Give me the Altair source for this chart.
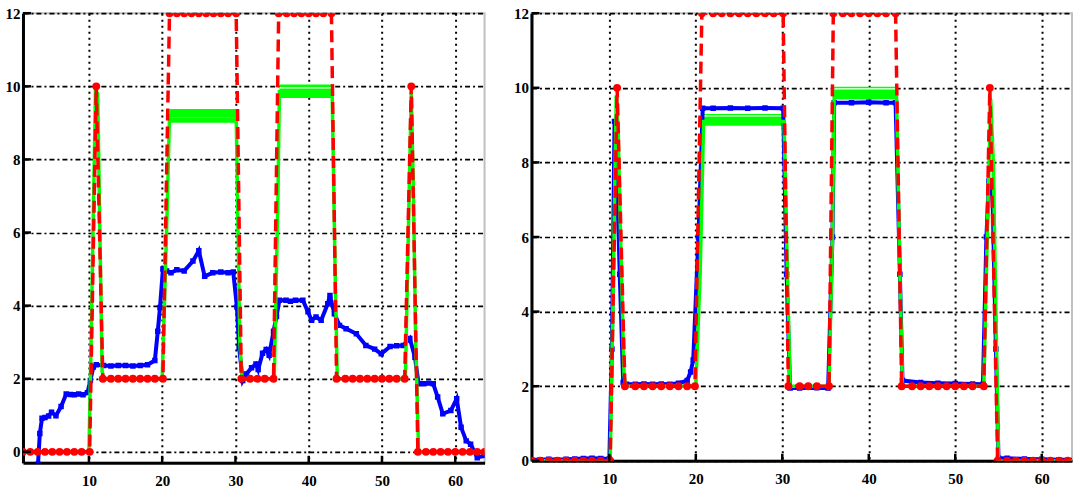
import altair as alt
import pandas as pd

X_TICKS = [10, 20, 30, 40, 50, 60]
Y_TICKS = [0, 2, 4, 6, 8, 10, 12]

# ---------------- left panel ----------------
red_left = [(1, 0), (2, 0), (3, 0), (4, 0), (5, 0), (6, 0), (7, 0), (8, 0), (9, 0), (10.1, 0),
            (11.0, 10), (11.9, 2), (13, 2), (14, 2), (15, 2), (16, 2), (17, 2), (18, 2), (19, 2), (20.1, 2),
            (21.0, 12), (22, 12), (23, 12), (24, 12), (25, 12), (26, 12), (27, 12), (28, 12), (29, 12), (30.1, 12),
            (30.8, 2), (32, 2), (33, 2), (34, 2), (35.2, 2),
            (35.9, 12), (37, 12), (38, 12), (39, 12), (40, 12), (41, 12), (42, 12), (43.1, 12),
            (43.8, 2), (45, 2), (46, 2), (47, 2), (48, 2), (49, 2), (50, 2), (51, 2), (52, 2), (53.1, 2),
            (54.0, 10), (54.9, 0), (56, 0), (57, 0), (58, 0), (59, 0), (60, 0), (61, 0), (62, 0), (63, 0), (64, 0)]

green_left = [(1, 0), (10.0, 0), (10.3, 3), (10.9, 9.9), (11.2, 9.8), (11.5, 6), (11.8, 2.2), (12, 2),
              (20.0, 2), (20.6, 6), (21.0, 9.2), (30.1, 9.2), (30.6, 3), (30.9, 2), (35.3, 2), (35.8, 7),
              (36.0, 9.85), (43.2, 9.85), (43.6, 5), (43.9, 2), (53.2, 2), (53.7, 7), (54.0, 9.8),
              (54.3, 7), (54.6, 3), (55.0, 0), (64, 0)]

# (x start, x end, y low, y high, white line level)
bands_left = [(21.0, 30.1, 9.0, 9.38, 9.17), (36.0, 43.2, 9.68, 10.05, 9.96)]

blue_left = [(3.05, -0.34), (3.3, 0.5), (3.6, 0.92), (4.0, 0.94), (4.5, 0.98), (4.9, 1.08), (5.5, 0.99),
             (6.2, 1.24), (6.9, 1.58), (7.5, 1.57), (8.0, 1.56), (8.6, 1.58), (9.2, 1.56), (9.8, 1.62),
             (10.2, 1.95), (10.6, 2.32), (11.0, 2.38), (12, 2.36), (13, 2.35), (14, 2.36), (15, 2.36),
             (16, 2.35), (17, 2.36), (18, 2.38), (19.0, 2.5), (19.4, 3.3), (19.7, 3.95), (20.1, 5.0),
             (20.6, 4.95), (21.2, 4.9), (22, 4.98), (23, 4.95), (24.2, 5.22), (25.0, 5.5), (25.8, 4.8),
             (26.9, 4.9), (28, 4.92), (29, 4.9), (29.7, 4.92), (30.2, 3.96), (30.5, 2.85), (31.0, 1.95),
             (31.5, 2.13), (32.2, 2.3), (32.8, 2.4), (33.1, 2.25), (33.7, 2.7), (34.2, 2.8), (34.6, 2.64),
             (35.2, 3.3), (35.6, 3.7), (36.0, 4.15), (36.9, 4.15), (37.5, 4.12), (38.2, 4.15), (39.2, 4.15),
             (39.9, 3.83), (40.4, 3.6), (41.0, 3.69), (41.7, 3.6), (42.6, 4.05), (42.9, 4.28), (43.5, 3.78),
             (44.2, 3.46), (45.1, 3.37), (46.5, 3.23), (47.8, 2.91), (49.0, 2.81), (49.9, 2.68), (51.1, 2.88),
             (52.0, 2.9), (52.9, 2.91), (53.8, 3.1), (54.5, 2.59), (55.0, 1.86), (55.7, 1.86), (56.4, 1.88),
             (57.0, 1.86), (57.6, 1.5), (58.3, 1.04), (59.4, 1.13), (60.2, 1.45), (60.8, 0.67), (61.5, 0.3),
             (62.1, 0.21), (63.0, -0.16), (64.0, -0.1)]

# ---------------- right panel ----------------
red_right = [(1, 0), (2, 0), (3, 0), (4, 0), (5, 0), (6, 0), (7, 0), (8, 0), (9, 0), (10.1, 0),
             (10.9, 10), (11.8, 2), (13, 2), (14, 2), (15, 2), (16, 2), (17, 2), (18, 2), (19, 2), (19.9, 2),
             (20.7, 12), (22, 12), (23, 12), (24, 12), (25, 12), (26, 12), (27, 12), (28, 12), (29, 12), (30.1, 12),
             (30.7, 2), (32, 2), (33, 2), (34, 2), (35.4, 2),
             (35.9, 12), (37, 12), (38, 12), (39, 12), (40, 12), (41, 12), (42, 12), (43.1, 12),
             (43.8, 2), (45, 2), (46, 2), (47, 2), (48, 2), (49, 2), (50, 2), (51, 2), (52, 2), (53.3, 2),
             (54.0, 10), (54.9, 0), (56, 0), (57, 0), (58, 0), (59, 0), (60, 0), (61, 0), (62, 0), (63, 0), (64, 0)]

green_right = [(1, 0), (10.1, 0), (10.4, 4), (10.8, 9.8), (11.0, 9.0), (11.3, 6), (11.7, 2.3), (11.9, 2),
               (20.0, 2), (20.5, 5), (20.9, 9.1), (30.2, 9.1), (30.6, 5), (30.9, 2), (35.4, 2), (35.8, 6),
               (36.0, 9.85), (43.2, 9.85), (43.6, 5), (43.9, 2), (53.3, 2), (53.8, 7), (54.1, 9.7),
               (54.4, 8), (54.7, 4), (55.0, 0), (64, 0)]

bands_right = [(20.9, 30.2, 8.98, 9.3, 9.25), (36.0, 43.2, 9.69, 10.03, 9.97)]

blue_right = [(1, 0.03), (2, 0.03), (3, 0.04), (4, 0.03), (5, 0.04), (6, 0.05), (7, 0.06), (8, 0.07),
              (9, 0.06), (10.0, 0.05), (10.3, 3), (10.6, 9.1), (10.9, 7.5), (11.2, 5), (11.6, 2.1),
              (12, 2.05), (13, 2.05), (14, 2.06), (15, 2.05), (16, 2.06), (17, 2.05), (18, 2.08), (19.0, 2.15),
              (19.4, 2.38), (19.7, 2.7), (20.3, 6), (20.8, 9.45), (22, 9.45), (24, 9.46), (26, 9.45),
              (28, 9.46), (30.1, 9.45), (30.5, 5), (30.9, 1.95), (32, 1.95), (34, 1.96), (35.3, 1.95),
              (35.8, 6), (36.0, 9.6), (38, 9.6), (40, 9.61), (42, 9.6), (43.1, 9.6), (43.6, 5), (43.9, 2.15),
              (46, 2.1), (48, 2.08), (50, 2.07), (52, 2.06), (53.2, 2.05), (53.6, 6), (53.9, 7.5),
              (54.3, 7.2), (54.7, 3), (55.0, 0.07), (56, 0.07), (58, 0.05), (60, 0.04), (62, 0.03), (64, 0.03)]

RED = "#ff0000"
GREEN = "#00ff00"
BLUE = "#0000ff"
FONT = "Liberation Serif"


def xy(rows):
    return pd.DataFrame(rows, columns=["x", "y"])


def panel(red, green, blue, bands, xdom, ydom, w, h):
    xs = alt.Scale(domain=xdom, nice=False, zero=False)
    ys = alt.Scale(domain=ydom, nice=False, zero=False)
    xax = alt.Axis(values=X_TICKS, grid=True, gridDash=[2, 4], gridColor="black", gridWidth=2,
                   ticks=False, domainColor="black", domainWidth=3, labelPadding=11,
                   labelFont=FONT, labelFontSize=15, labelFontWeight="bold", labelColor="black", title=None)
    yax = alt.Axis(values=Y_TICKS, grid=True, gridDash=[5, 3, 2, 3], gridColor="black", gridWidth=1.7,
                   ticks=False, domainColor="black", domainWidth=3, labelPadding=3,
                   labelFont=FONT, labelFontSize=15, labelFontWeight="bold", labelColor="black", title=None)
    X = alt.X("x:Q", scale=xs, axis=xax)
    Y = alt.Y("y:Q", scale=ys, axis=yax)

    bdf = pd.DataFrame(bands, columns=["x", "x2", "y", "y2", "w"])
    band = alt.Chart(bdf).mark_rect(color=GREEN, clip=True).encode(
        x=X, x2="x2:Q", y=Y, y2="y2:Q")
    white = alt.Chart(bdf).mark_rule(color="white", strokeWidth=1.2, clip=True).encode(
        x=X, x2="x2:Q", y=alt.Y("w:Q", scale=ys, axis=yax))

    bdat = xy(blue)
    bline = alt.Chart(bdat).mark_line(color=BLUE, strokeWidth=4, clip=True).encode(x=X, y=Y)
    bpts = alt.Chart(bdat).mark_point(color=BLUE, filled=True, shape="square", size=30,
                                      opacity=1, clip=True).encode(x=X, y=Y)

    gline = alt.Chart(xy(green)).mark_line(color=GREEN, strokeWidth=3.5, clip=True).encode(x=X, y=Y)

    rdat = xy(red)
    rline = alt.Chart(rdat).mark_line(color=RED, strokeWidth=3.5, strokeDash=[12, 6], clip=True).encode(x=X, y=Y)
    rpts = alt.Chart(rdat).mark_point(color=RED, filled=True, shape="circle", size=62,
                                      opacity=1, clip=True).encode(x=X, y=Y)

    xt = alt.Chart(pd.DataFrame({"x": X_TICKS})).mark_rule(color="black", strokeWidth=2.5).encode(
        x=X, y=alt.value(h), y2=alt.value(h - 7))
    yt = alt.Chart(pd.DataFrame({"y": Y_TICKS})).mark_rule(color="black", strokeWidth=2.5).encode(
        y=Y, x=alt.value(0), x2=alt.value(8))

    return alt.layer(band, white, bline, bpts, gline, rline, rpts, xt, yt).properties(width=w, height=h)


left = panel(red_left, green_left, blue_left, bands_left, [1, 64], [-0.3, 12], 462, 450)
right = panel(red_right, green_right, blue_right, bands_right, [1, 63.5], [0, 12], 541, 448)

chart = alt.hconcat(left, right, spacing=27).properties(
    padding={"left": 4, "top": 5, "right": 0, "bottom": 0},
    background="white",
).configure_view(stroke="#c0c0c0", strokeWidth=2)

chart.save("out.html", embed_options={"renderer": "svg", "actions": False})
